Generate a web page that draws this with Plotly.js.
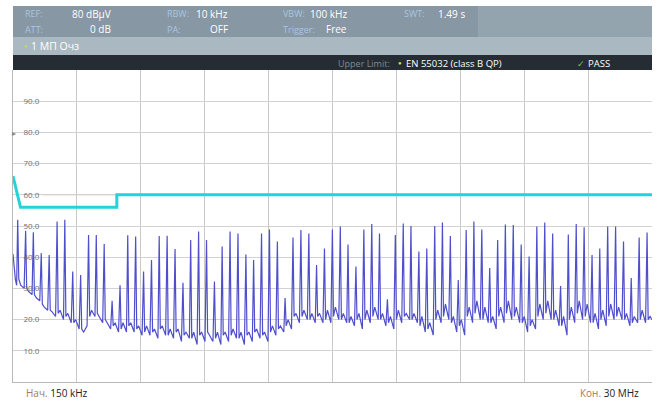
<!DOCTYPE html>
<html>
<head>
<meta charset="utf-8">
<script src="https://cdn.plot.ly/plotly-3.0.1.min.js"></script>
<style>html,body{margin:0;padding:0;background:#fff;}#chart{width:659px;height:402px;}</style>
</head>
<body>
<div id="chart"></div>
<script>
// ---- data ----
const startMHz = [0.15, 0.2, 0.26, 0.32];
const startDb  = [41, 36, 33, 31];

const peakMHz = [0.37,0.74,1.10,1.47,1.84,2.21,2.57,2.94,3.31,3.68,4.04,4.41,4.78,5.15,5.51,5.88,6.25,6.62,6.98,7.35,
  7.72,8.09,8.45,8.82,9.19,9.56,9.92,10.29,10.66,11.03,11.39,11.76,12.13,12.50,12.86,13.23,13.60,13.97,14.33,14.70,
  15.07,15.44,15.80,16.17,16.54,16.91,17.27,17.64,18.01,18.38,18.74,19.11,19.48,19.85,20.21,20.58,20.95,21.32,21.68,22.05,
  22.42,22.79,23.15,23.52,23.89,24.26,24.62,24.99,25.36,25.73,26.09,26.46,26.83,27.20,27.56,27.93,28.30,28.67,29.03,29.40,29.77];
const peakDb = [52,48.5,48,41.3,40.7,51.4,52,35.4,34.3,47.1,47.1,44.2,26,31,47,46.6,35.4,39.1,46.8,46.9,
  42.6,31.8,45.5,48.2,45.5,32.2,43.4,48.2,47.6,40.9,39.1,47.6,48.9,45,26.9,46.3,48.7,47.6,37.5,42.8,
  48.9,49.8,44.1,37,48.9,50.6,47.6,26.5,47.1,50.8,50,41.8,42.8,50,51.1,46.8,32.7,48.7,51.4,48.9,
  36.5,45.5,50.5,50.3,44.1,40.2,49.8,51.1,47.6,30.8,47.3,50.6,49.6,40.7,42.8,49.8,49.8,45,33.3,46.3,47.9];
// noise floor after each peak: foot, small bump, low point
const footDb = [33,30,28,25,23,22,21,19,17,21,22,20,18,17,18,17,16,16,17,15,
  16,15,14,15,16,14,15,15,14,15,16,15,16,17,18,21,21,20,21,20,
  21,20,19,20,20,21,20,19,20,21,20,18,17,20,21,19,18,21,22,20,
  19,21,22,21,19,18,21,22,20,18,20,22,21,19,20,21,21,20,19,20,20];
const bumpDb = [31,29,27,24,22.5,23,22,20,16,23,21,19,19,19,19,18,18,17,18,17,
  17,16,16,16,15,16,16,17,16,16,17,16,18,18,20,22,23,22,22,23,
  24,22,21,22,23,24,22,21,23,22,22,21,19,23,25,21,20,24,26,24,
  21,24,26,24,21,20,25,26,23,21,24,26,25,22,23,25,24,22,21,23,21];
const lowDb = [30,28,26,23,21,20,19,17,18,21,19,17,16,16,16,15,15,14,15,14,
  13,14,12,13,13,12,13,14,12,13,14,13,15,16,17,19,20,19,19,19,
  20,19,18,17,19,20,18,17,19,20,19,16,15,19,20,16,15,19,20,19,
  17,19,20,19,16,17,20,20,18,15,19,20,19,17,18,20,20,18,19,19,20];

const limitMHz = [0.15, 0.5, 5, 5, 30];
const limitDb  = [66, 56, 56, 60, 60];
const displayLineDb = 60;
const yTicks = [10,20,30,40,50,60,70,80,90];

// ---- build trace from arrays ----
const tx = startMHz.slice(), ty = startDb.slice();
for (let i = 0; i < peakMHz.length; i++) {
  tx.push(peakMHz[i]); ty.push(peakDb[i]);
  tx.push(Math.min(peakMHz[i] + 0.05, 30)); ty.push(footDb[i]);
  tx.push(Math.min(peakMHz[i] + 0.14, 30)); ty.push(bumpDb[i]);
  tx.push(Math.min(peakMHz[i] + 0.30, 30)); ty.push(lowDb[i]);
}

// pixel helpers for layout decoration
const L = 13, R = 652, T = 70, B = 382;
const px = p => (p - L) / (R - L);
const py = p => (B - p) / (B - T);

const F = '"Open Sans", "Noto Sans", sans-serif';
const lab = '#a9c6e3';
function ann(text, x, y, anchor, color, size) {
  return {text: text, xref: 'paper', yref: 'paper', x: px(x), y: py(y), xanchor: anchor, yanchor: 'middle',
    showarrow: false, font: {family: F, size: size || 9, color: color}};
}

const shapes = [
  {type:'rect', xref:'paper', yref:'paper', x0:px(13), x1:px(652), y0:py(37), y1:py(6), fillcolor:'#94a4ae', line:{width:0}, layer:'above'},
  {type:'rect', xref:'paper', yref:'paper', x0:px(13), x1:px(478), y0:py(37), y1:py(6), fillcolor:'#8797a3', line:{width:0}, layer:'above'},
  {type:'rect', xref:'paper', yref:'paper', x0:px(13), x1:px(652), y0:py(55), y1:py(37), fillcolor:'#aab9c1', line:{width:0}, layer:'above'},
  {type:'rect', xref:'paper', yref:'paper', x0:px(13), x1:px(652), y0:py(70), y1:py(55), fillcolor:'#262c33', line:{width:0}, layer:'above'},
  {type:'rect', xref:'paper', yref:'paper', x0:px(13), x1:px(42), y0:0, y1:1, fillcolor:'#ffffff', line:{width:0}, layer:'between'},
  {type:'line', xref:'paper', yref:'y', x0:px(42), x1:1, y0:displayLineDb, y1:displayLineDb, line:{color:'#eeb79a', width:1}, layer:'between'}
];

const W = '#ffffff';
const annotations = [
  ann('REF:', 23, 14, 'left', lab), ann('80 dBµV', 113, 14, 'right', W, 10),
  ann('RBW:', 165, 14, 'left', lab), ann('10 kHz', 230, 14, 'right', W, 10),
  ann('VBW:', 281, 14, 'left', lab), ann('100 kHz', 349, 14, 'right', W, 10),
  ann('SWT:', 402, 14, 'left', lab), ann('1.49 s', 467, 14, 'right', W, 10),
  ann('ATT:', 23, 29, 'left', lab), ann('0 dB', 113, 29, 'right', W, 10),
  ann('PA:', 165, 29, 'left', lab), ann('OFF', 230, 29, 'right', W, 10),
  ann('Trigger:', 281, 29, 'left', lab), ann('Free', 349, 29, 'right', W, 10),
  ann('●', 22, 46, 'left', '#b6dc6a', 6), ann('1 МП Очз', 29, 46, 'left', W, 10.5),
  ann('Upper Limit:', 336, 63, 'left', '#7d8b96', 9), ann('●', 396, 63, 'left', '#d7dc3c', 6),
  ann('EN 55032 (class B QP)', 404, 63, 'left', W, 9.5),
  ann('✓', 575, 63, 'left', '#7cc04f', 9), ann('PASS', 586, 63, 'left', W, 9.5),
  ann('▸', 10, 132, 'left', '#888888', 8),
  ann('<span style="color:#a8785a">Нач.</span> 150 kHz', 24, 393, 'left', '#222222', 10),
  ann('<span style="color:#a8785a">Кон.</span> 30 MHz', 641, 393, 'right', '#222222', 10)
];

const data = [
  {x: tx, y: ty, type: 'scatter', mode: 'lines', line: {color: '#4f4fcc', width: 1.2}, hoverinfo: 'skip'},
  {x: limitMHz, y: limitDb, type: 'scatter', mode: 'lines', line: {color: '#22d4d9', width: 3}, hoverinfo: 'skip'}
];

const layout = {
  width: 659, height: 402,
  margin: {l: 13, r: 7, t: 70, b: 20, pad: 0},
  paper_bgcolor: '#ffffff', plot_bgcolor: '#ffffff',
  showlegend: false,
  font: {family: F},
  xaxis: {range: [0.15, 30], tick0: 0.15, dtick: 2.985, showgrid: true, gridcolor: '#c9c9c9', gridwidth: 1,
    showticklabels: false, ticks: '', zeroline: false, showline: true, linecolor: '#b8b8b8', linewidth: 1},
  yaxis: {range: [0, 100], tickvals: yTicks, ticktext: yTicks.map(v => v.toFixed(1)),
    ticklabelposition: 'inside', ticklabelstandoff: 9, tickfont: {family: F, size: 8, color: '#6f6f6f'},
    showgrid: true, gridcolor: '#d2d2d2', gridwidth: 1, ticks: '', zeroline: false,
    showline: true, linecolor: '#b8b8b8', linewidth: 1},
  shapes: shapes,
  annotations: annotations
};

Plotly.newPlot('chart', data, layout, {staticPlot: true, displayModeBar: false});
</script>
</body>
</html>
